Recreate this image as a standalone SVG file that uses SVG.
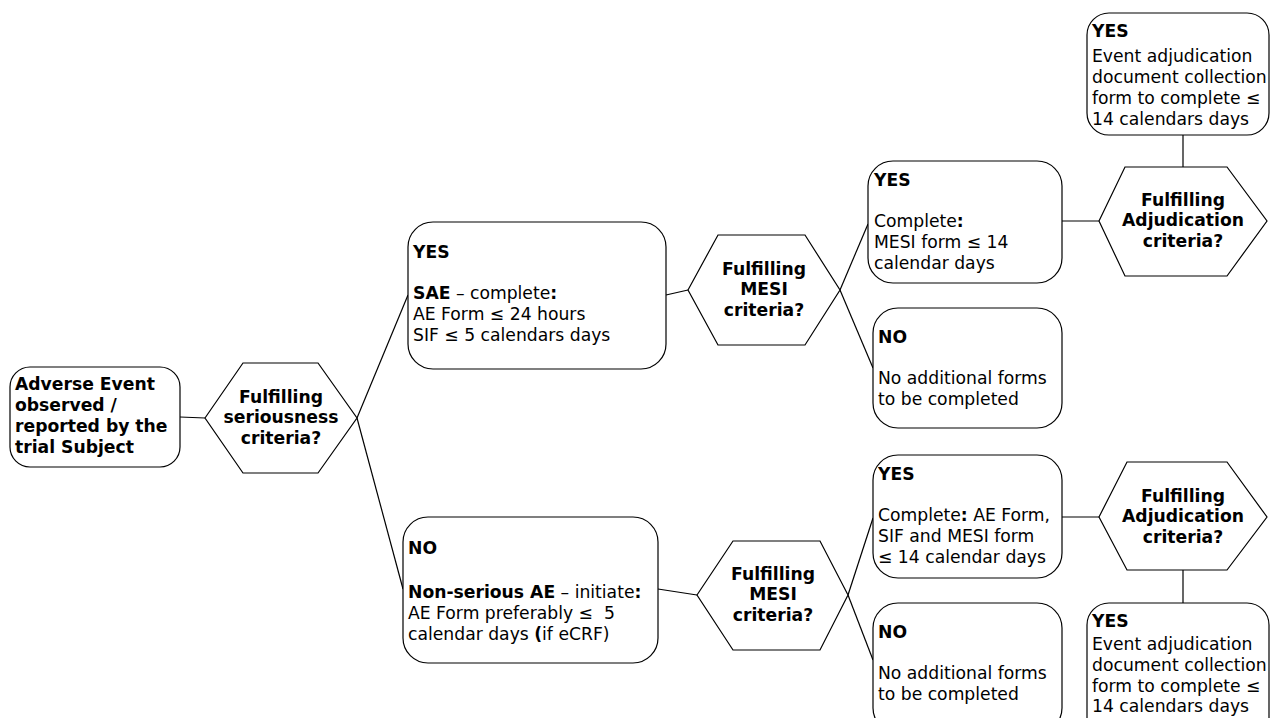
<svg xmlns="http://www.w3.org/2000/svg" width="1271" height="718" viewBox="0 0 1271 718">
<style>
text{font-family:"DejaVu Sans","Verdana",sans-serif;font-size:17.2px;fill:#000}
.b{font-weight:bold;font-size:17.2px}
.c{text-anchor:middle;font-weight:bold;font-size:17.2px}
.box{fill:#fff;stroke:#000;stroke-width:1.2}
.ln{stroke:#000;stroke-width:1.2;fill:none}
</style>
<rect width="1271" height="718" fill="#fff"/>
<g id="connectors">
<line class="ln" x1="180" y1="417" x2="205" y2="418"/>
<line class="ln" x1="357" y1="418" x2="408" y2="295"/>
<line class="ln" x1="357" y1="418" x2="403" y2="589"/>
<line class="ln" x1="666" y1="295" x2="688" y2="290"/>
<line class="ln" x1="658" y1="589" x2="697" y2="595"/>
<line class="ln" x1="840" y1="290" x2="868" y2="224"/>
<line class="ln" x1="840" y1="290" x2="873" y2="368"/>
<line class="ln" x1="848" y1="595" x2="873" y2="518"/>
<line class="ln" x1="848" y1="595" x2="873" y2="660"/>
<line class="ln" x1="1062" y1="221" x2="1099" y2="221"/>
<line class="ln" x1="1062" y1="517" x2="1099" y2="517"/>
<line class="ln" x1="1183" y1="135" x2="1183" y2="167"/>
<line class="ln" x1="1183" y1="570" x2="1183" y2="603"/>
</g>
<g id="start">
<rect class="box" x="10" y="367" width="170" height="100" rx="20"/>
<text class="b" x="15" y="390">Adverse Event</text>
<text class="b" x="15" y="411">observed /</text>
<text class="b" x="15" y="432">reported by the</text>
<text class="b" x="15" y="453">trial Subject</text>
</g>
<g id="dec-serious">
<polygon class="box" points="205,418 243,363 318,363 357,418 318,473 243,473"/>
<text class="c" x="281" y="403">Fulfilling</text>
<text class="c" x="281" y="423">seriousness</text>
<text class="c" x="281" y="444">criteria?</text>
</g>
<g id="sae">
<rect class="box" x="408" y="222" width="258" height="147" rx="25"/>
<text class="b" x="413" y="258">YES</text>
<text x="413" y="299"><tspan class="b">SAE</tspan> – complete<tspan class="b">:</tspan></text>
<text x="413" y="320">AE Form ≤ 24 hours</text>
<text x="413" y="341">SIF ≤ 5 calendars days</text>
</g>
<g id="nonserious">
<rect class="box" x="403" y="517" width="255" height="146" rx="25"/>
<text class="b" x="408" y="554">NO</text>
<text x="408" y="598"><tspan class="b">Non-serious AE</tspan> – initiate<tspan class="b">:</tspan></text>
<text x="408" y="619">AE Form preferably ≤&#160; 5</text>
<text x="408" y="640">calendar days <tspan class="b">(</tspan>if eCRF)</text>
</g>
<g id="dec-mesi-1">
<polygon class="box" points="688,290 718,235 805,235 840,290 805,345 718,345"/>
<text class="c" x="764" y="275">Fulfilling</text>
<text class="c" x="764" y="295">MESI</text>
<text class="c" x="764" y="316">criteria?</text>
</g>
<g id="dec-mesi-2">
<polygon class="box" points="697,595 733,541 820,541 848,595 820,650 733,650"/>
<text class="c" x="773" y="580">Fulfilling</text>
<text class="c" x="773" y="600">MESI</text>
<text class="c" x="773" y="621">criteria?</text>
</g>
<g id="mesi-yes-1">
<rect class="box" x="868" y="161" width="194" height="122" rx="25"/>
<text class="b" x="874" y="186">YES</text>
<text x="874" y="227">Complete<tspan class="b">:</tspan></text>
<text x="874" y="248">MESI form ≤ 14</text>
<text x="874" y="269">calendar days</text>
</g>
<g id="mesi-no-1">
<rect class="box" x="873" y="308" width="189" height="120" rx="25"/>
<text class="b" x="878" y="343">NO</text>
<text x="878" y="384">No additional forms</text>
<text x="878" y="405">to be completed</text>
</g>
<g id="mesi-yes-2">
<rect class="box" x="873" y="455" width="189" height="123" rx="25"/>
<text class="b" x="878" y="480">YES</text>
<text x="878" y="521">Complete<tspan class="b">:</tspan> AE Form,</text>
<text x="878" y="542">SIF and MESI form</text>
<text x="878" y="563">≤ 14 calendar days</text>
</g>
<g id="mesi-no-2">
<rect class="box" x="873" y="603" width="189" height="130" rx="25"/>
<text class="b" x="878" y="638">NO</text>
<text x="878" y="679">No additional forms</text>
<text x="878" y="700">to be completed</text>
</g>
<g id="dec-adj-1">
<polygon class="box" points="1099,221 1125,167 1227,167 1267,221 1227,276 1125,276"/>
<text class="c" x="1183" y="206">Fulfilling</text>
<text class="c" x="1183" y="226">Adjudication</text>
<text class="c" x="1183" y="247">criteria?</text>
</g>
<g id="dec-adj-2">
<polygon class="box" points="1099,517 1127,462 1227,462 1267,517 1227,570 1127,570"/>
<text class="c" x="1183" y="502">Fulfilling</text>
<text class="c" x="1183" y="522">Adjudication</text>
<text class="c" x="1183" y="543">criteria?</text>
</g>
<g id="adj-yes-1">
<rect class="box" x="1087" y="13" width="182" height="122" rx="22"/>
<text class="b" x="1092" y="37">YES</text>
<text x="1092" y="62">Event adjudication</text>
<text x="1092" y="83">document collection</text>
<text x="1092" y="104">form to complete ≤</text>
<text x="1092" y="125">14 calendars days</text>
</g>
<g id="adj-yes-2">
<rect class="box" x="1087" y="603" width="182" height="140" rx="22"/>
<text class="b" x="1092" y="627">YES</text>
<text x="1092" y="650">Event adjudication</text>
<text x="1092" y="671">document collection</text>
<text x="1092" y="692">form to complete ≤</text>
<text x="1092" y="712">14 calendars days</text>
</g>
</svg>
